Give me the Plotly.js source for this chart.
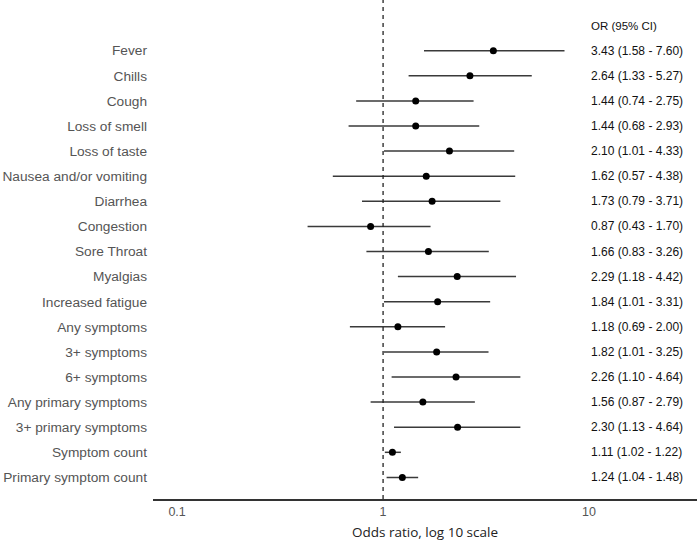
<!DOCTYPE html>
<html>
<head>
<meta charset="utf-8">
<script src="https://cdn.plot.ly/plotly-3.0.1.min.js"></script>
<style>html,body{margin:0;padding:0;background:#fff;}#chart{width:700px;height:547px;}</style>
</head>
<body>
<div id="chart"></div>
<script>
const labels = ["Fever","Chills","Cough","Loss of smell","Loss of taste","Nausea and/or vomiting","Diarrhea","Congestion","Sore Throat","Myalgias","Increased fatigue","Any symptoms","3+ symptoms","6+ symptoms","Any primary symptoms","3+ primary symptoms","Symptom count","Primary symptom count"];
const oddsRatio = [3.43,2.64,1.44,1.44,2.10,1.62,1.73,0.87,1.66,2.29,1.84,1.18,1.82,2.26,1.56,2.30,1.11,1.24];
const ciLow = [1.58,1.33,0.74,0.68,1.01,0.57,0.79,0.43,0.83,1.18,1.01,0.69,1.01,1.10,0.87,1.13,1.02,1.04];
const ciHigh = [7.60,5.27,2.75,2.93,4.33,4.38,3.71,1.70,3.26,4.42,3.31,2.00,3.25,4.64,2.79,4.64,1.22,1.48];
const xTickVals = [0.1, 1, 10];
const xTickText = ["0.1", "1", "10"];

const rows = labels.map((_, i) => i);

const trace = {
  type: 'scatter', mode: 'markers',
  x: oddsRatio, y: rows,
  marker: {color: '#000', size: 7},
  error_x: {
    type: 'data', symmetric: false,
    array: oddsRatio.map((v, i) => ciHigh[i] - v),
    arrayminus: oddsRatio.map((v, i) => v - ciLow[i]),
    width: 0, thickness: 1.5, color: '#3a3a3a'
  },
  hoverinfo: 'skip', showlegend: false
};

const annotations = oddsRatio.map((v, i) => ({
  x: 1, xref: 'x', y: i, yref: 'y', xanchor: 'left', yanchor: 'middle',
  text: v.toFixed(2) + ' (' + ciLow[i].toFixed(2) + ' - ' + ciHigh[i].toFixed(2) + ')',
  showarrow: false, font: {family: 'Liberation Sans, Arial, sans-serif', size: 12, color: '#111'}
}));
annotations.push({
  x: 1, xref: 'x', y: -1, yref: 'y', xanchor: 'left', yanchor: 'middle',
  text: 'OR (95% CI)', showarrow: false,
  font: {family: 'Liberation Sans, Arial, sans-serif', size: 11.5, color: '#111'}
});

const layout = {
  width: 700, height: 547,
  margin: {l: 153, r: 3, t: 0, b: 48},
  paper_bgcolor: '#fff', plot_bgcolor: '#fff',
  xaxis: {
    type: 'log', range: [-1.117, 1.524],
    tickvals: xTickVals, ticktext: xTickText,
    showgrid: false, zeroline: false,
    showline: true, linecolor: '#333', linewidth: 1.5,
    ticks: '', ticklabelstandoff: 0,
    tickfont: {family: 'Liberation Sans, Arial, sans-serif', size: 12.5, color: '#555'},
    title: {text: 'Odds ratio, log 10 scale', standoff: 10,
      font: {family: 'Open Sans, Lato, sans-serif', size: 13.5, color: '#222'}}
  },
  yaxis: {
    range: [17.86, -2.02],
    tickvals: rows, ticktext: labels,
    showgrid: false, zeroline: false, showline: false, ticks: '',
    ticklabelstandoff: 5,
    tickfont: {family: 'Liberation Sans, Arial, sans-serif', size: 13.7, color: '#555'}
  },
  shapes: [{
    type: 'line', xref: 'x', yref: 'paper', x0: 1, x1: 1, y0: 0, y1: 1,
    line: {color: '#222', width: 1.3, dash: '4px,4px'}
  }],
  annotations: annotations
};

Plotly.newPlot('chart', [trace], layout, {displayModeBar: false, staticPlot: true});
</script>
</body>
</html>
